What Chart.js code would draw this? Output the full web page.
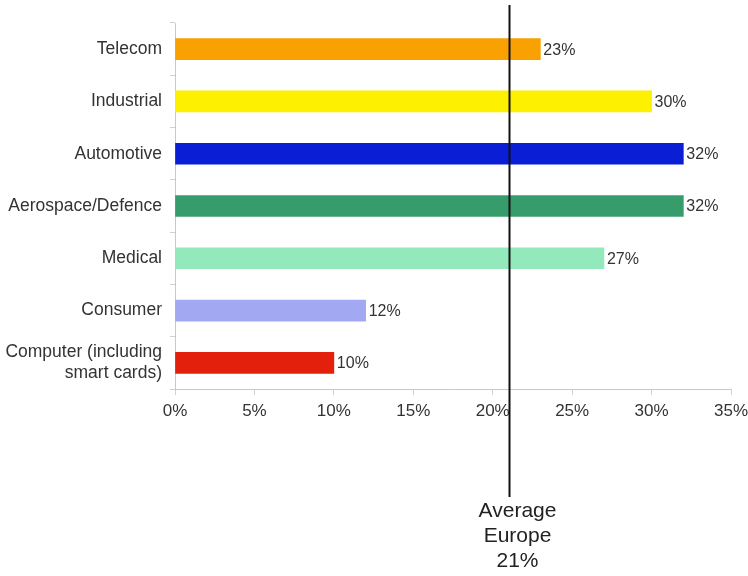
<!DOCTYPE html>
<html>
<head>
<meta charset="utf-8">
<script src="https://cdn.jsdelivr.net/npm/chart.js@4"></script>
<style>
  html, body { margin: 0; padding: 0; background: #fff; }
  #wrap { width: 748px; height: 576px; }
</style>
</head>
<body>
<div id="wrap"><canvas id="chart" width="748" height="576"></canvas></div>
<script>
// --- данные ---
const sectors = [
  "Telecom",
  "Industrial",
  "Automotive",
  "Aerospace/Defence",
  "Medical",
  "Consumer",
  ["Computer (including", "smart cards)"],
];
const shares = [23, 30, 32, 32, 27, 12, 10];
const barColors = [
  "#f9a100",
  "#fdf000",
  "#0a1ed6",
  "#379c6c",
  "#93e9bb",
  "#a3a8f3",
  "#e2200c",
];
const xTicks = [0, 5, 10, 15, 20, 25, 30, 35];
const avgEurope = 21;
const avgLabel = ["Average", "Europe", avgEurope + "%"];

const FONT = "'Liberation Sans', Arial, sans-serif";
const TEXT = "#333";

// --- подписи значений справа от столбцов ---
const valueLabels = {
  id: "valueLabels",
  afterDatasetsDraw(chart) {
    const { ctx } = chart;
    const meta = chart.getDatasetMeta(0);
    ctx.save();
    ctx.font = "16px " + FONT;
    ctx.fillStyle = TEXT;
    ctx.textAlign = "left";
    ctx.textBaseline = "middle";
    meta.data.forEach((bar, i) => {
      ctx.fillText(shares[i] + "%", bar.x + 3, bar.y + 1);
    });
    ctx.restore();
  },
};

// --- вертикальная линия среднего по Европе ---
const avgLine = {
  id: "avgLine",
  afterDatasetsDraw(chart) {
    const { ctx } = chart;
    const x = Math.round(chart.scales.x.getPixelForValue(avgEurope)) + 0.5;
    ctx.save();
    ctx.strokeStyle = "#111";
    ctx.lineWidth = 2;
    ctx.beginPath();
    ctx.moveTo(x, 5);
    ctx.lineTo(x, 497);
    ctx.stroke();
    ctx.font = "21px " + FONT;
    ctx.fillStyle = "#222";
    ctx.textAlign = "center";
    ctx.textBaseline = "middle";
    avgLabel.forEach((line, i) => {
      ctx.fillText(line, x + 8, 511 + i * 25);
    });
    ctx.restore();
  },
};

new Chart(document.getElementById("chart"), {
  type: "bar",
  data: {
    labels: sectors,
    datasets: [
      {
        data: shares,
        backgroundColor: barColors,
        borderWidth: 0,
        barThickness: 21,
      },
    ],
  },
  options: {
    indexAxis: "y",
    responsive: false,
    animation: false,
    layout: { padding: { top: 23, right: 17, left: 0, bottom: 0 } },
    plugins: {
      legend: { display: false },
      tooltip: { enabled: false },
    },
    scales: {
      x: {
        min: 0,
        max: 35,
        afterBuildTicks(scale) {
          scale.ticks = xTicks.map((v) => ({ value: v }));
        },
        afterFit(scale) {
          scale.height = 187;
          // подпись 35% может выходить за край области графика
          scale.paddingLeft = 0;
          scale.paddingRight = 0;
        },
        ticks: {
          color: TEXT,
          font: { family: FONT, size: 17 },
          padding: 6,
          callback: (v) => v + "%",
        },
        grid: {
          drawOnChartArea: false,
          drawTicks: true,
          tickLength: 6,
          color: "#d0d0d0",
        },
        border: { color: "#c8c8c8" },
      },
      y: {
        afterFit(scale) {
          scale.width = 175;
          scale.paddingTop = 0;
          scale.paddingBottom = 0;
        },
        ticks: {
          color: TEXT,
          font: { family: FONT, size: 17.5 },
          padding: 8,
        },
        grid: {
          drawOnChartArea: false,
          drawTicks: true,
          tickLength: 5,
          color: "#d0d0d0",
        },
        border: { color: "#c8c8c8" },
      },
    },
  },
  plugins: [valueLabels, avgLine],
});
</script>
</body>
</html>
